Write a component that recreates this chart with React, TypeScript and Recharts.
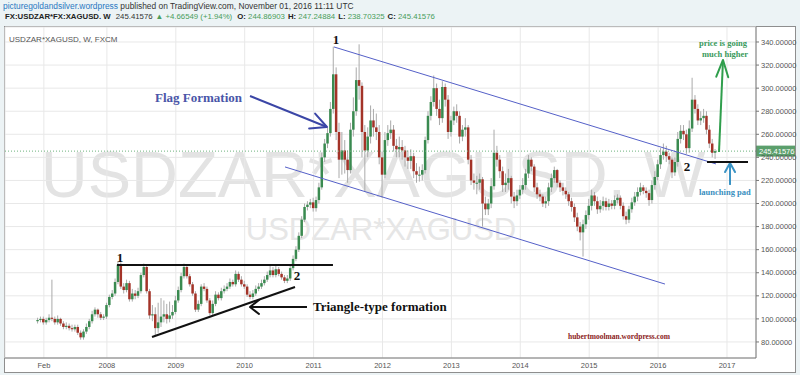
import React from "react";
import { ComposedChart, Bar, XAxis, YAxis, CartesianGrid, ReferenceLine } from "recharts";

// semi-monthly candles from Jan 2007, open = previous close
const START_YEAR = 2007;
const STEPS_PER_YEAR = 24;
const FIRST_OPEN = 98;
const LAST_PRICE = 245.41576;

const closes = [
  99, 100, 97, 99, 101, 100, 97, 100, 96, 93, 94, 92, 91, 93, 88, 84, 89, 93, 98, 104, 108, 104, 101, 102,
  112, 119, 122, 132, 147, 128, 125, 131, 117, 122, 120, 124, 138, 145, 124, 103, 104, 92, 97, 102, 104, 100, 103, 106,
  116, 125, 137, 145, 137, 130, 122, 108, 113, 128, 126, 116, 105, 113, 121, 118, 124, 126, 128, 132, 130, 139, 134, 130,
  128, 121, 119, 122, 126, 128, 131, 134, 138, 142, 138, 143, 139, 136, 133, 135, 144, 152, 160, 172, 186, 197, 199, 201,
  196, 203, 214, 240, 252, 261, 282, 312, 262, 238, 246, 238, 229, 264, 280, 307, 302, 262, 246, 258, 272, 266, 262, 240,
  225, 255, 261, 264, 250, 247, 249, 246, 240, 237, 241, 228, 225, 225, 229, 255, 276, 288, 300, 282, 274, 301, 290, 262,
  272, 280, 276, 258, 264, 266, 238, 220, 218, 218, 221, 200, 195, 200, 215, 244, 238, 228, 216, 218, 222, 206, 202, 207,
  212, 216, 226, 238, 232, 214, 208, 206, 200, 202, 214, 222, 229, 218, 214, 211, 208, 202, 197, 188, 180, 175, 182, 190,
  198, 207, 202, 195, 198, 202, 197, 200, 198, 203, 205, 198, 189, 186, 195, 201, 206, 210, 214, 211, 209, 203, 216, 223,
  234, 242, 245, 241, 238, 227, 236, 256, 263, 260, 248, 265, 290, 282, 272, 274, 276, 264, 252, 244, 245.41576,
];

const highs = [
  101, 102, 102, 101, 104, 134, 102, 103, 101, 98, 97, 96, 95, 95, 95, 90, 91, 96, 100, 107, 110, 109, 106, 104,
  114, 121, 125, 135, 150, 149, 131, 134, 133, 126, 125, 127, 140, 148, 146, 126, 112, 110, 114, 118, 116, 113, 115, 112,
  120, 128, 140, 148, 147, 139, 132, 124, 116, 130, 131, 128, 118, 116, 124, 123, 127, 129, 131, 135, 134, 142, 141, 137,
  133, 130, 124, 125, 129, 131, 134, 137, 141, 146, 145, 146, 145, 141, 138, 138, 146, 155, 163, 175, 189, 200, 202, 204,
  205, 206, 218, 244, 256, 266, 288, 336, 318, 270, 262, 255, 246, 270, 292, 318, 338, 305, 268, 266, 285, 282, 278, 268,
  245, 262, 268, 272, 268, 256, 258, 255, 250, 246, 247, 244, 235, 232, 234, 258, 280, 293, 311, 304, 290, 306, 304, 294,
  276, 284, 286, 280, 268, 274, 268, 242, 226, 224, 226, 223, 206, 204, 222, 264, 250, 242, 232, 226, 230, 224, 210, 212,
  216, 222, 230, 242, 240, 234, 218, 212, 208, 206, 218, 226, 232, 230, 220, 218, 214, 210, 205, 200, 192, 184, 186, 194,
  204, 212, 210, 206, 203, 206, 205, 204, 203, 207, 208, 207, 201, 193, 198, 205, 210, 214, 218, 216, 214, 212, 220, 228,
  238, 248, 252, 250, 244, 240, 240, 262, 268, 268, 264, 272, 309, 294, 286, 280, 282, 280, 268, 256, 247.24884,
];

const lows = [
  96, 97, 95, 95, 97, 98, 95, 95, 94, 91, 91, 90, 89, 89, 86, 82, 82, 87, 91, 96, 102, 101, 99, 99,
  100, 110, 117, 120, 130, 126, 122, 123, 115, 115, 117, 118, 122, 136, 122, 100, 98, 86, 88, 93, 97, 96, 97, 100,
  104, 114, 123, 135, 135, 128, 120, 106, 106, 111, 124, 114, 103, 103, 111, 116, 116, 122, 124, 126, 128, 128, 132, 128,
  126, 119, 117, 117, 120, 124, 126, 129, 132, 136, 136, 136, 137, 134, 131, 131, 133, 142, 150, 158, 170, 184, 194, 196,
  193, 193, 200, 212, 236, 248, 258, 278, 255, 222, 225, 226, 218, 226, 258, 276, 290, 240, 210, 240, 252, 258, 255, 234,
  205, 222, 250, 256, 245, 240, 240, 238, 232, 230, 230, 222, 218, 219, 220, 226, 252, 272, 284, 276, 268, 270, 284, 256,
  258, 268, 270, 252, 254, 258, 234, 216, 212, 208, 212, 180, 190, 190, 196, 212, 232, 222, 210, 210, 212, 200, 196, 198,
  204, 208, 212, 222, 228, 210, 204, 202, 197, 196, 198, 210, 218, 214, 210, 207, 204, 198, 193, 184, 176, 168, 154, 178,
  186, 194, 198, 191, 192, 194, 194, 194, 195, 195, 200, 195, 186, 182, 183, 192, 198, 202, 207, 208, 205, 198, 200, 212,
  220, 230, 238, 236, 234, 222, 224, 232, 252, 255, 243, 244, 262, 278, 268, 268, 270, 260, 248, 240, 238.70325,
];

const yTicks = [80, 100, 120, 140, 160, 180, 200, 220, 240, 260, 280, 300, 320, 340];
const xTickValues = [2007.085, 2008, 2009, 2010, 2011, 2012, 2013, 2014, 2015, 2016, 2017];
const xTickLabels = ["Feb", "2008", "2009", "2010", "2011", "2012", "2013", "2014", "2015", "2016", "2017"];

// drawn lines, in (year, price)
const channelUpper = [{ x: 2011.296, y: 335.7 }, { x: 2016.84, y: 234.3 }];
const channelLower = [{ x: 2010.585, y: 231.7 }, { x: 2016.1, y: 130.2 }];
const flagArrow = [{ x: 2010.077, y: 293.2 }, { x: 2011.194, y: 266.3 }];
const triangleTop = [{ x: 2008.147, y: 146.7 }, { x: 2011.281, y: 146.7 }];
const triangleBase = [{ x: 2008.655, y: 84.3 }, { x: 2010.73, y: 127.6 }];
const triangleArrow = [{ x: 2010.904, y: 110.3 }, { x: 2010.077, y: 110.3 }];
const higherArrow = [{ x: 2016.884, y: 244.7 }, { x: 2016.942, y: 324.4 }];
const padArrow = [{ x: 2017.044, y: 216.1 }, { x: 2017.044, y: 235.1 }];
const padLine = [{ x: 2016.71, y: 236.0 }, { x: 2017.305, y: 236.0 }];

const candles = closes.map((close, i) => ({
  t: START_YEAR + i / STEPS_PER_YEAR,
  open: i === 0 ? FIRST_OPEN : closes[i - 1],
  close,
  high: highs[i],
  low: lows[i],
  range: [lows[i], highs[i]],
}));

const UP = "#3a8a50";
const DOWN = "#a33328";
const WICK = "#aaaaaa";
const SANS = "'Liberation Sans', Arial, sans-serif";
const SERIF = "'Liberation Serif', 'Times New Roman', serif";

function Candle(props: any) {
  const { x, y, width, height, payload } = props;
  if (!payload || x == null) return null;
  const top = Math.min(y, y + height);
  const h = Math.abs(height);
  const span = payload.high - payload.low || 1;
  const toY = (v: number) => top + ((payload.high - v) / span) * h;
  const cx = x + width / 2;
  const b1 = toY(Math.max(payload.open, payload.close));
  const b2 = toY(Math.min(payload.open, payload.close));
  return (
    <g>
      <line x1={cx} x2={cx} y1={top} y2={top + h} stroke={WICK} strokeWidth={1} />
      <rect
        x={cx - 1.25}
        y={b1}
        width={2.5}
        height={Math.max(1, b2 - b1)}
        fill={payload.close >= payload.open ? UP : DOWN}
      />
    </g>
  );
}

function Arrowhead({ id, color, len, half }: { id: string; color: string; len: number; half: number }) {
  return (
    <marker
      id={id}
      viewBox={`0 0 ${len} ${half * 2}`}
      refX={len}
      refY={half}
      markerWidth={len}
      markerHeight={half * 2}
      markerUnits="userSpaceOnUse"
      orient="auto"
      style={{ overflow: "visible" }}
    >
      <path
        d={`M0,0 L${len},${half} L0,${half * 2}`}
        fill="none"
        stroke={color}
        strokeWidth={2}
        strokeLinecap="round"
        strokeLinejoin="round"
      />
    </marker>
  );
}

function PriceTag(props: any) {
  const vb = props.viewBox || {};
  const x = (vb.x || 0) + (vb.width || 0);
  const y = vb.y || 0;
  return (
    <g>
      <rect x={x} y={y - 5.5} width={39} height={11} fill="#5b9f6c" />
      <text x={x + 3} y={y + 3} fontSize={7.5} fill="#fff" fontFamily={SANS}>
        {LAST_PRICE.toFixed(5)}
      </text>
    </g>
  );
}

export default function App() {
  const green = "#4a9d5b";
  return (
    <div style={{ position: "absolute", left: 0, top: 0, width: 800, height: 375, background: "#ecf3f5", overflow: "hidden" }}>
      <div style={{ position: "absolute", left: 3, top: 1, fontFamily: SANS, fontSize: 8.4, color: "#333", whiteSpace: "nowrap" }}>
        <span style={{ color: "#2a78c2" }}>picturegoldandsilver.wordpress</span> published on TradingView.com, November 01, 2016 11:11 UTC
      </div>
      <div style={{ position: "absolute", left: 5, top: 12, fontFamily: SANS, fontSize: 7.8, color: "#333", whiteSpace: "nowrap" }}>
        <b style={{ color: "#222" }}>FX:USDZAR*FX:XAGUSD. W</b>
        <span style={{ marginLeft: 5 }}>245.41576</span>
        <span style={{ marginLeft: 3, color: green }}>▲ +4.66549 (+1.94%)</span>
        <b style={{ marginLeft: 5, color: "#222" }}>O:</b><span style={{ color: green }}> 244.86903</span>
        <b style={{ marginLeft: 3, color: "#222" }}>H:</b><span style={{ color: green }}> 247.24884</span>
        <b style={{ marginLeft: 3, color: "#222" }}>L:</b><span style={{ color: green }}> 238.70325</span>
        <b style={{ marginLeft: 3, color: "#222" }}>C:</b><span style={{ color: green }}> 245.41576</span>
      </div>

      <div style={{ position: "absolute", left: 4, top: 26, width: 792, height: 347, background: "#fff", border: "1px solid #8e8e8e", boxSizing: "border-box" }} />

      <svg width={800} height={375} style={{ position: "absolute", left: 0, top: 0 }}>
        <defs>
          <Arrowhead id="mFlag" color="#3b46a6" len={16} half={8} />
          <Arrowhead id="mTri" color="#111" len={9} half={7} />
          <Arrowhead id="mHigh" color="#2f9e4c" len={17} half={6} />
          <Arrowhead id="mPad" color="#3a93c4" len={9} half={5} />
        </defs>
        <text x={373} y={197} textAnchor="middle" fontSize={65} fill="#e3e3e3" fontFamily={SANS}>USDZAR*XAGUSD, W</text>
        <text x={381} y={240} textAnchor="middle" fontSize={31} fill="#e6e6e6" fontFamily={SANS}>USDZAR*XAGUSD</text>
      </svg>

      <div style={{ position: "absolute", left: 0, top: 0 }}>
        <ComposedChart width={800} height={375} data={candles} margin={{ top: 27, right: 5, bottom: 3, left: 5 }}>
          <CartesianGrid stroke="#e8e8e8" strokeWidth={1} />
          <XAxis
            dataKey="t"
            type="number"
            domain={[2006.521, 2017.421]}
            ticks={xTickValues}
            tickFormatter={(v: number) => xTickLabels[xTickValues.indexOf(v)] ?? ""}
            allowDataOverflow
            height={14}
            tickSize={3}
            tickLine={false}
            axisLine={{ stroke: "#777" }}
            tick={{ fontSize: 7.5, fill: "#555", fontFamily: SANS }}
          />
          <YAxis
            orientation="right"
            type="number"
            domain={[66.1, 353]}
            ticks={yTicks}
            allowDataOverflow
            width={39}
            tickSize={3}
            tickMargin={2}
            tickFormatter={(v: number) => v.toFixed(5)}
            axisLine={{ stroke: "#777" }}
            tickLine={{ stroke: "#777" }}
            tick={{ fontSize: 7.5, fill: "#555", fontFamily: SANS }}
          />
          <Bar dataKey="range" barSize={2} shape={<Candle />} isAnimationActive={false} />
          <ReferenceLine y={LAST_PRICE} stroke="#6db27d" strokeDasharray="1 2" label={<PriceTag />} />
          <ReferenceLine segment={channelUpper} stroke="#5560c8" strokeWidth={1} />
          <ReferenceLine segment={channelLower} stroke="#5560c8" strokeWidth={1} />
          <ReferenceLine segment={flagArrow} stroke="#3b46a6" strokeWidth={2} markerEnd="url(#mFlag)" />
          <ReferenceLine segment={triangleTop} stroke="#111" strokeWidth={2} />
          <ReferenceLine segment={triangleBase} stroke="#111" strokeWidth={2} />
          <ReferenceLine segment={triangleArrow} stroke="#111" strokeWidth={2} markerEnd="url(#mTri)" />
          <ReferenceLine segment={higherArrow} stroke="#2f9e4c" strokeWidth={2} markerEnd="url(#mHigh)" />
          <ReferenceLine segment={padArrow} stroke="#3a93c4" strokeWidth={2} markerEnd="url(#mPad)" />
          <ReferenceLine segment={padLine} stroke="#111" strokeWidth={2} />
        </ComposedChart>
      </div>

      <svg width={800} height={375} style={{ position: "absolute", left: 0, top: 0, pointerEvents: "none" }}>
        <text x={9} y={42} fontSize={8} fill="#555" fontFamily={SANS}>USDZAR*XAGUSD, W, FXCM</text>
        <text x={155} y={102} fontSize={13} fontWeight="bold" fill="#4a56a8" fontFamily={SERIF}>Flag Formation</text>
        <text x={313} y={311} fontSize={13} fontWeight="bold" fill="#111" fontFamily={SERIF}>Triangle-type formation</text>
        <text x={336} y={44} fontSize={13} fontWeight="bold" textAnchor="middle" fill="#111" fontFamily={SERIF}>1</text>
        <text x={120} y={262} fontSize={13} fontWeight="bold" textAnchor="middle" fill="#111" fontFamily={SERIF}>1</text>
        <text x={297} y={280} fontSize={13} fontWeight="bold" textAnchor="middle" fill="#111" fontFamily={SERIF}>2</text>
        <text x={687} y={171} fontSize={13} fontWeight="bold" textAnchor="middle" fill="#111" fontFamily={SERIF}>2</text>
        <text x={723} y={46} fontSize={8.5} fontWeight="bold" textAnchor="middle" fill="#3a9a5c" fontFamily={SERIF}>price is going</text>
        <text x={725} y={57} fontSize={8.5} fontWeight="bold" textAnchor="middle" fill="#3a9a5c" fontFamily={SERIF}>much higher</text>
        <text x={699} y={195} fontSize={8.5} fontWeight="bold" fill="#3a8fc0" fontFamily={SERIF}>launching pad</text>
        <text x={568} y={339} fontSize={7.5} fontWeight="bold" fill="#8b2222" fontFamily={SERIF}>hubertmoolman.wordpress.com</text>
      </svg>
    </div>
  );
}
